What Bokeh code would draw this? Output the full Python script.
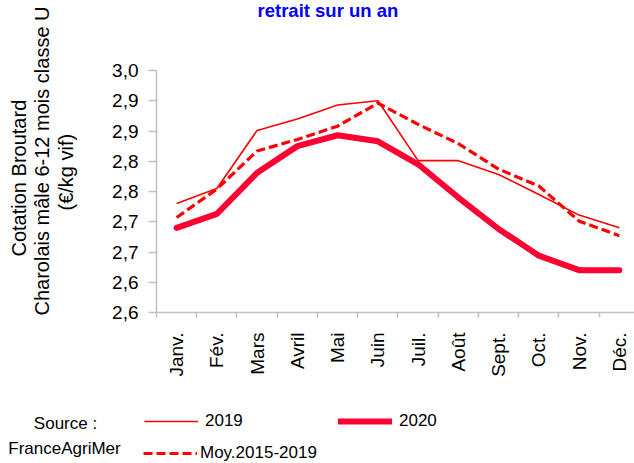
import math
from bokeh.plotting import figure
from bokeh.models import Range1d, FixedTicker, Label, Legend, LegendItem, Title
from bokeh.layouts import column
from bokeh.embed import file_html
from bokeh.resources import INLINE

# ---------------- data ----------------
months = ["Janv.", "Fév.", "Mars", "Avril", "Mai", "Juin",
          "Juil.", "Août", "Sept.", "Oct.", "Nov.", "Déc."]
v2019 = [2.780, 2.805, 2.901, 2.920, 2.943, 2.950, 2.851, 2.851, 2.828, 2.795, 2.761, 2.740]
v2020 = [2.740, 2.763, 2.831, 2.875, 2.893, 2.883, 2.845, 2.790, 2.738, 2.694, 2.670, 2.670]
moy_2015_2019 = [2.757, 2.804, 2.867, 2.886, 2.908, 2.946, 2.911, 2.879, 2.837, 2.809, 2.751, 2.727]

y_ticks = [2.60, 2.65, 2.70, 2.75, 2.80, 2.85, 2.90, 2.95, 3.00]
y_tick_labels = ["2,6", "2,6", "2,7", "2,7", "2,8", "2,8", "2,9", "2,9", "3,0"]

title_text = "retrait sur un an"
ylabel_lines = ["Cotation Broutard", "Charolais mâle 6-12 mois classe U", "(€/kg vif)"]
source_lines = ["Source :", "FranceAgriMer"]
legend_labels = ["2019", "2020", "Moy.2015-2019"]

FONT = "Liberation Sans"
GRAY = "#BFBFBF"
C2019 = "#FF0000"
C2020 = "#FF0033"
CMOY = "#FF0000"

xs = [i + 0.5 for i in range(len(months))]
boundaries = list(range(len(months) + 1))

# ---------------- main chart ----------------
p = figure(width=634, height=385, output_backend="svg", toolbar_location=None,
           x_range=Range1d(0, 11.876), y_range=Range1d(2.6, 3.0),
           min_border_left=156, min_border_right=0, min_border_top=69,
           min_border_bottom=73)
p.outline_line_color = None
p.xgrid.grid_line_color = None
p.ygrid.grid_line_color = None
p.title.text = ""

# title: a spacer next to the frame, then the blue title on top
p.add_layout(Title(text=" ", standoff=29, text_font=FONT, text_font_size="20px"), "above")
p.add_layout(Title(text=title_text, align="left", offset=101, standoff=-6,
                   text_font=FONT, text_font_size="18.5px", text_font_style="bold",
                   text_color="#0000FF"), "above")

# x axis
xa = p.xaxis[0]
xa.ticker = FixedTicker(ticks=xs, minor_ticks=boundaries)
xa.major_label_overrides = {x: m for x, m in zip(xs, months)}
xa.major_tick_line_color = None
xa.major_tick_out = 0
xa.major_tick_in = 0
xa.minor_tick_line_color = GRAY
xa.minor_tick_line_width = 1.5
xa.minor_tick_out = 5
xa.minor_tick_in = 0
xa.axis_line_color = GRAY
xa.axis_line_width = 1.5
xa.major_label_orientation = math.pi / 2
xa.major_label_standoff = 15
xa.major_label_text_font = FONT
xa.major_label_text_font_size = "19px"
xa.major_label_text_color = "black"

# y axis
ya = p.yaxis[0]
ya.ticker = FixedTicker(ticks=y_ticks)
ya.major_label_overrides = {t: l for t, l in zip(y_ticks, y_tick_labels)}
ya.major_tick_line_color = GRAY
ya.major_tick_line_width = 1.5
ya.major_tick_out = 8
ya.major_tick_in = 0
ya.minor_tick_line_color = None
ya.axis_line_color = GRAY
ya.axis_line_width = 1.5
ya.major_label_standoff = 10
ya.major_label_text_font = FONT
ya.major_label_text_font_size = "19px"
ya.major_label_text_color = "black"

# spacer between tick labels and the y-axis title block
p.add_layout(Title(text=" ", standoff=9, text_font=FONT, text_font_size="20px"), "left")
# y-axis title lines, nearest to the axis first
yl_offsets = [56, -3, 102]
yl_standoffs = [0, -1, 0]
for i in [2, 1, 0]:
    p.add_layout(Title(text=ylabel_lines[i], align="left", offset=yl_offsets[i],
                       standoff=yl_standoffs[i], text_font=FONT,
                       text_font_size="20px", text_font_style="normal",
                       text_color="black"), "left")

# series
p.line(xs, v2019, line_color=C2019, line_width=1.6, line_join="round")
p.line(xs, moy_2015_2019, line_color=CMOY, line_width=3.2, line_dash="9 4",
       line_join="round")
p.line(xs, v2020, line_color=C2020, line_width=6, line_join="round", line_cap="round")

# ---------------- legend / source strip ----------------
p2 = figure(width=634, height=78, output_backend="svg", toolbar_location=None,
            x_range=Range1d(0, 634), y_range=Range1d(78, 0),
            x_axis_location=None, y_axis_location=None, min_border=0,
            min_border_left=0, min_border_right=0, min_border_top=0,
            min_border_bottom=0)
p2.outline_line_color = None
p2.xgrid.grid_line_color = None
p2.ygrid.grid_line_color = None
for fig in (p, p2):
    if "frame_align" in fig.properties():
        fig.frame_align = False

# legend proxies: same series, on a range that keeps them out of view
p2.extra_y_ranges = {"proxy": Range1d(10, 11)}
k2019 = p2.line(xs, v2019, y_range_name="proxy", line_color=C2019, line_width=1.6)
k2020 = p2.line(xs, v2020, y_range_name="proxy", line_color=C2020, line_width=6,
                line_cap="round")
kmoy = p2.line(xs, moy_2015_2019, y_range_name="proxy", line_color=CMOY,
               line_width=3.2, line_dash="9 4")

common = dict(orientation="horizontal", glyph_width=54, glyph_height=20,
              spacing=0, padding=0, margin=0, border_line_color=None,
              background_fill_alpha=0, label_text_font=FONT,
              label_text_font_size="17px", label_text_color="black")
leg1 = Legend(items=[LegendItem(label=legend_labels[0], renderers=[k2019]),
                     LegendItem(label=legend_labels[1], renderers=[k2020])],
              location=(144, 32), label_standoff=7, label_width=133, **common)
leg2 = Legend(items=[LegendItem(label=legend_labels[2], renderers=[kmoy])],
              location=(143, 0), label_standoff=3, **common)
p2.add_layout(leg1)
p2.add_layout(leg2)

src_x = [65, 64]
src_y = [38, 63]
for t, cx, cy in zip(source_lines, src_x, src_y):
    p2.add_layout(Label(x=cx, y=cy, text=t, text_font=FONT, text_font_size="17px",
                        text_color="black", text_align="center",
                        text_baseline="middle"))

layout = column(p, p2, spacing=0)
open("out.html", "w").write(file_html(layout, INLINE))
